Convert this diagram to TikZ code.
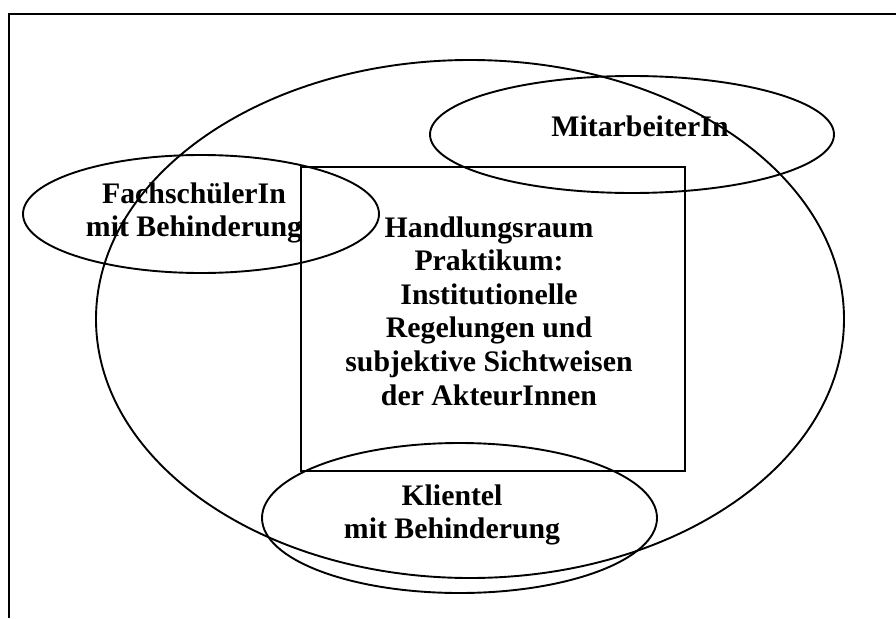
\documentclass[tikz,border=0pt]{standalone}
\usepackage{fontspec}
\setmainfont{Liberation Serif}
\usetikzlibrary{shapes.geometric}

\begin{document}
\begin{tikzpicture}[
    x=1pt, y=-1pt,
    line width=1.9pt,
    oval/.style={ellipse, draw, inner sep=0pt},
    box/.style={rectangle, draw, inner sep=0pt},
    txt/.style={font=\fontsize{29.8}{33.6}\selectfont\bfseries, align=center, inner sep=0pt}
]
    \useasboundingbox (0,0) rectangle (896,618);

    % Frame
    \draw (9,618) -- (9,14) -- (896,14);

    % Shapes
    \node[oval, minimum width=748pt, minimum height=518pt] (feld) at (470,319) {};
    \node[box, minimum width=384pt, minimum height=304pt] (raum) at (493,319) {};
    \node[oval, minimum width=356pt, minimum height=118pt] (schueler) at (201,214) {};
    \node[oval, minimum width=404pt, minimum height=117pt] (mitarb) at (632,134.5) {};
    \node[oval, minimum width=395pt, minimum height=150pt] (klientel) at (459.5,518) {};

    % Texts
    \node[txt] (tschueler) at (194,213) {FachschülerIn\\mit Behinderung};
    \node[txt] (tmitarb) at (640,126) {MitarbeiterIn};
    \node[txt] (traum) at (489,311) {Handlungsraum\\Praktikum:\\Institutionelle\\Regelungen und\\subjektive Sichtweisen\\der AkteurInnen};
    \node[txt] (tklientel) at (452,515) {Klientel\\mit Behinderung};

\end{tikzpicture}
\end{document}
